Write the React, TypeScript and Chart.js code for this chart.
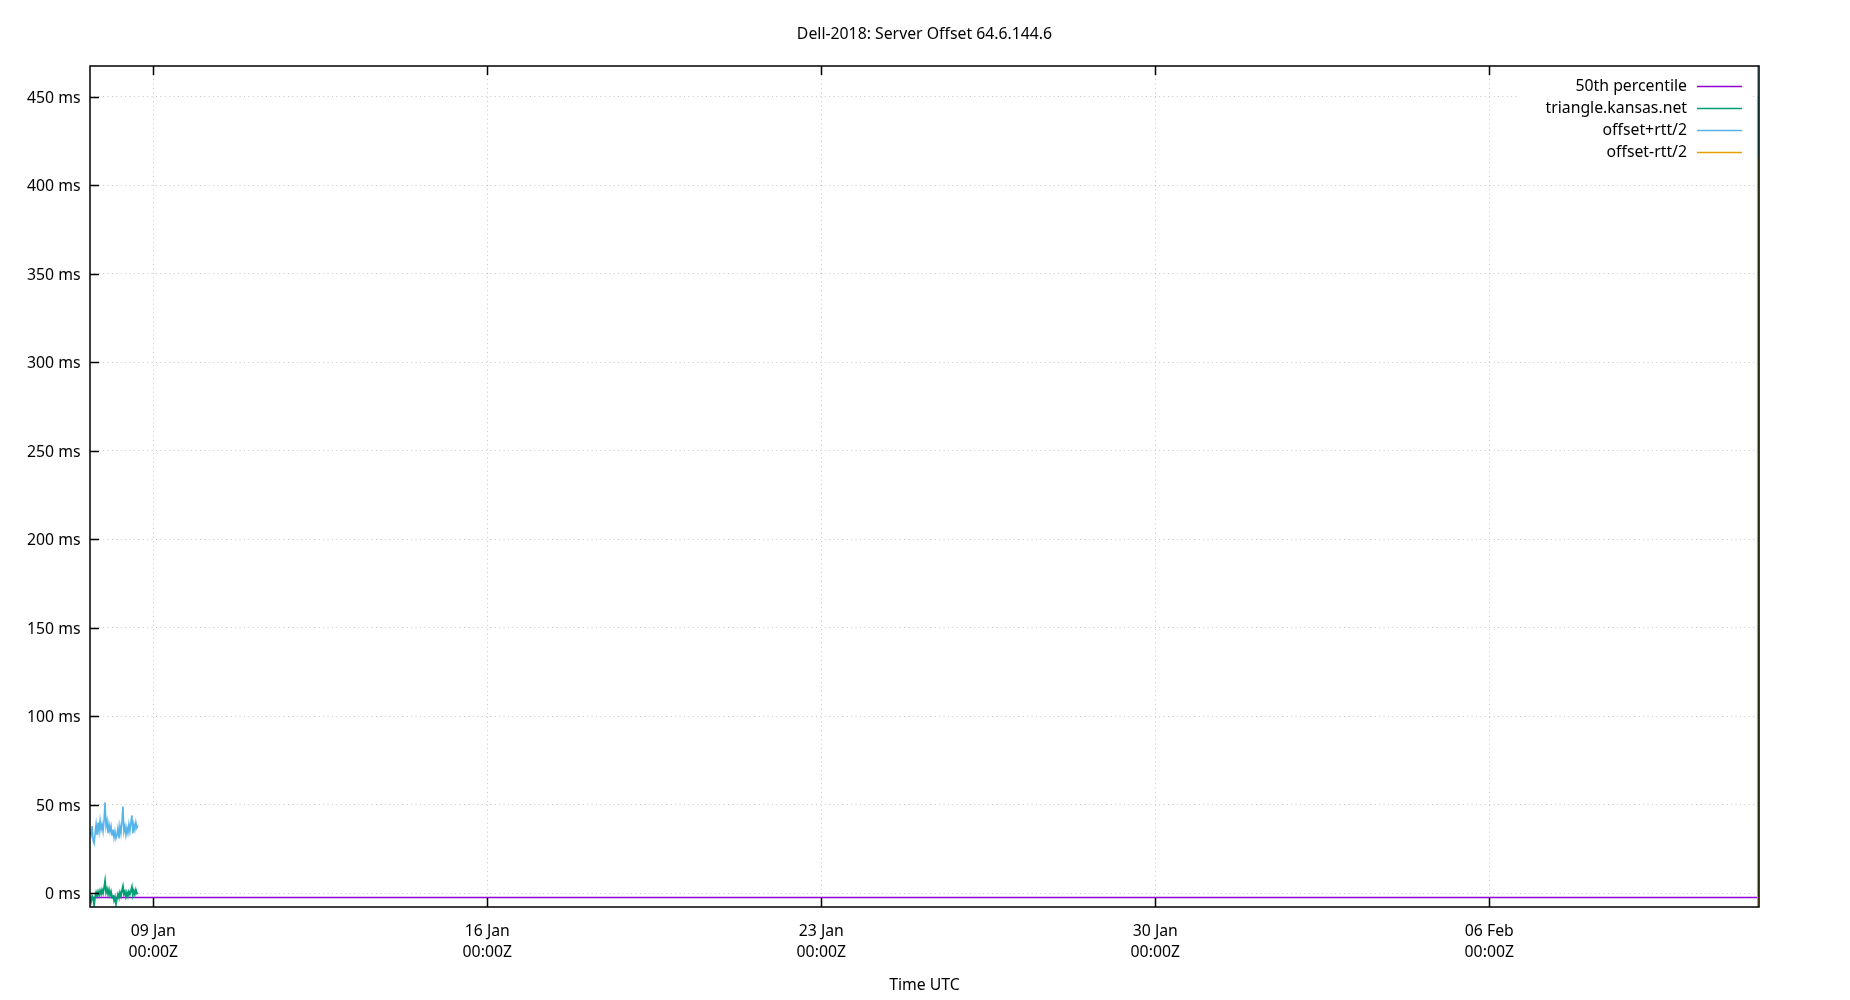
import React, { useEffect, useRef } from 'react';
import { Chart, registerables } from 'chart.js';

Chart.register(...registerables);

const chartTitle = 'Dell-2018: Server Offset 64.6.144.6';
const xAxisTitle = 'Time UTC';

const seriesLabels = ['50th percentile', 'triangle.kansas.net', 'offset+rtt/2', 'offset-rtt/2'];
const seriesColors = ['#9400d3', '#009e73', '#56b4e9', '#e69f00'];

// axis range and ticks
const xAxisMin = '2019-01-07T16:10:00Z';
const xAxisMax = '2019-02-11T15:40:00Z';
const xTickDates = [
  '2019-01-09T00:00:00Z',
  '2019-01-16T00:00:00Z',
  '2019-01-23T00:00:00Z',
  '2019-01-30T00:00:00Z',
  '2019-02-06T00:00:00Z',
];
const yAxisMin = -7.7;
const yAxisMax = 467.3;
const yTickValues = [0, 50, 100, 150, 200, 250, 300, 350, 400, 450];

// first run of samples, every 30 minutes (ms)
const firstRunStart = '2019-01-07T16:14:00Z';
const firstRunStepMinutes = 30;
const firstRunOffset = [
  -2.0, -4.5, -1.5, -3.0, -6.5, -2.0, 0.5, -1.5, 1.0, -1.0,
  1.5, -0.5, 2.0, 0.0, 3.0, 7.0, 0.5, 2.5, -0.5, 2.0,
  -1.0, 1.0, -2.5, -1.0, -4.0, -2.0, -6.0, -3.0, -0.5, -2.5,
  0.5, -1.5, 1.5, 4.0, -0.5, 1.0, -2.0, 0.5, -1.5, 1.0,
  -0.5, 1.5, 3.7, -1.0, 1.5, -0.5, 2.0, 0.0, 0.5,
];
const firstRunHalfRtt = [
  37.0, 37.5, 39.5, 33.0, 34.7, 36.0, 38.5, 34.5, 39.0, 36.0,
  39.5, 36.5, 37.0, 35.0, 38.0, 44.4, 37.5, 38.5, 34.5, 37.0,
  36.0, 37.0, 35.5, 37.0, 35.5, 37.0, 37.0, 36.0, 37.5, 33.5,
  37.5, 35.5, 38.5, 45.0, 35.5, 37.0, 35.0, 36.5, 35.5, 38.0,
  35.5, 38.5, 40.3, 35.0, 37.5, 36.5, 38.0, 37.0, 38.0,
];

// last samples at the right edge
const lastRunTimes = ['2019-02-11T14:58:00Z', '2019-02-11T15:05:00Z'];
const lastRunOffset = [-0.8, 450.0];
const lastRunHalfRtt = [37.5, 34.3];

const medianOffset = -2.3;

const monthNames = ['Jan', 'Feb', 'Mar', 'Apr', 'May', 'Jun', 'Jul', 'Aug', 'Sep', 'Oct', 'Nov', 'Dec'];
const pad2 = (n: number) => String(n).padStart(2, '0');

const FONT_SIZE = 15.8;

type Pt = { x: number; y: number | null };

const buildSeries = (pick: (off: number, half: number) => number): Pt[] => {
  const t0 = Date.parse(firstRunStart);
  const first = firstRunOffset.map((off, i) => ({
    x: t0 + i * firstRunStepMinutes * 60000,
    y: pick(off, firstRunHalfRtt[i]),
  }));
  const last = lastRunTimes.map((t, i) => ({
    x: Date.parse(t),
    y: pick(lastRunOffset[i], lastRunHalfRtt[i]),
  }));
  const gap = { x: (first[first.length - 1].x + last[0].x) / 2, y: null };
  return [...first, gap, ...last];
};

const gnuplotLook = {
  id: 'gnuplotLook',
  afterDatasetsDraw(chart: any) {
    const { ctx, chartArea, scales } = chart;
    const { left, right, top, bottom } = chartArea;
    ctx.save();
    ctx.strokeStyle = '#000';
    ctx.lineWidth = 1.5;
    ctx.strokeRect(left, top, right - left, bottom - top);
    ctx.beginPath();
    // inward ticks: bottom + mirrored top, left only
    scales.x.ticks.forEach((t: any) => {
      const px = Math.round(scales.x.getPixelForValue(t.value)) + 0.5;
      ctx.moveTo(px, bottom);
      ctx.lineTo(px, bottom - 9);
      ctx.moveTo(px, top);
      ctx.lineTo(px, top + 9);
    });
    scales.y.ticks.forEach((t: any) => {
      const py = Math.round(scales.y.getPixelForValue(t.value)) + 0.5;
      ctx.moveTo(left, py);
      ctx.lineTo(left + 9, py);
    });
    ctx.stroke();
    ctx.restore();
  },
  afterDraw(chart: any) {
    const { ctx, chartArea } = chart;
    const { left, right, top } = chartArea;
    ctx.save();
    ctx.font = `${FONT_SIZE}px "Noto Sans"`;
    ctx.fillStyle = '#000';
    ctx.textAlign = 'center';
    ctx.textBaseline = 'middle';
    ctx.fillText(chartTitle, (left + right) / 2, 34);

    // opaque key box
    ctx.fillStyle = '#fff';
    ctx.fillRect(right - 242, top + 8, 233, 90);
    ctx.textAlign = 'right';
    chart.data.datasets.forEach((ds: any, i: number) => {
      const rowY = top + 20.5 + i * 22;
      ctx.fillStyle = '#000';
      ctx.fillText(ds.label, right - 72, rowY);
      ctx.strokeStyle = ds.borderColor;
      ctx.lineWidth = 1.5;
      ctx.beginPath();
      ctx.moveTo(right - 62, rowY);
      ctx.lineTo(right - 17, rowY);
      ctx.stroke();
    });
    ctx.restore();
  },
};

const App = () => {
  const canvasRef = useRef<HTMLCanvasElement>(null);
  const chartRef = useRef<Chart | null>(null);

  useEffect(() => {
    document.body.style.margin = '0';
    if (!canvasRef.current) return;
    if (chartRef.current) chartRef.current.destroy();

    const xMin = Date.parse(xAxisMin);
    const xMax = Date.parse(xAxisMax);

    const datasets = [
      {
        label: seriesLabels[0],
        data: [{ x: xMin, y: medianOffset }, { x: xMax, y: medianOffset }],
        borderColor: seriesColors[0],
        borderWidth: 1.6,
        order: 4,
      },
      {
        label: seriesLabels[1],
        data: buildSeries((off) => off),
        borderColor: seriesColors[1],
        borderWidth: 1.8,
        order: 3,
      },
      {
        label: seriesLabels[2],
        data: buildSeries((off, half) => off + half),
        borderColor: seriesColors[2],
        borderWidth: 1.6,
        order: 2,
      },
      {
        label: seriesLabels[3],
        data: buildSeries((off, half) => off - half),
        borderColor: seriesColors[3],
        borderWidth: 1.6,
        order: 1,
      },
    ];

    Chart.defaults.font.family = '"Noto Sans"';
    Chart.defaults.font.size = FONT_SIZE;
    Chart.defaults.color = '#000';

    const gridColor = 'rgba(160,160,160,0.6)';

    chartRef.current = new Chart(canvasRef.current, {
      type: 'line',
      data: { datasets: datasets as any },
      options: {
        animation: false,
        responsive: false,
        devicePixelRatio: 1,
        events: [],
        layout: { padding: { top: 66, right: 91, left: 0, bottom: 0 } },
        elements: {
          point: { radius: 0 },
          line: { tension: 0, fill: false },
        },
        spanGaps: false,
        plugins: {
          legend: { display: false },
          title: { display: false },
          tooltip: { enabled: false },
        },
        scales: {
          x: {
            type: 'linear',
            min: xMin,
            max: xMax,
            afterFit: (scale: any) => {
              scale.height = 93;
            },
            afterBuildTicks: (scale: any) => {
              scale.ticks = xTickDates.map((d) => ({ value: Date.parse(d) }));
            },
            ticks: {
              autoSkip: false,
              maxRotation: 0,
              padding: 13.5,
              font: { size: FONT_SIZE, lineHeight: 1.37 },
              callback: (value: any) => {
                const d = new Date(Number(value));
                return [
                  `${pad2(d.getUTCDate())} ${monthNames[d.getUTCMonth()]}`,
                  `${pad2(d.getUTCHours())}:${pad2(d.getUTCMinutes())}Z`,
                ];
              },
            },
            grid: { color: gridColor, lineWidth: 1, drawTicks: false },
            border: { display: false, dash: [1, 3.4] },
            title: {
              display: true,
              text: xAxisTitle,
              font: { size: FONT_SIZE },
              padding: { top: 0, bottom: 5.5 },
            },
          },
          y: {
            type: 'linear',
            min: yAxisMin,
            max: yAxisMax,
            afterFit: (scale: any) => {
              scale.width = 90;
            },
            afterBuildTicks: (scale: any) => {
              scale.ticks = yTickValues.map((v) => ({ value: v }));
            },
            ticks: {
              padding: 9.5,
              labelOffset: 1.5,
              font: { size: FONT_SIZE },
              callback: (value: any) => `${value} ms`,
            },
            grid: { color: gridColor, lineWidth: 1, drawTicks: false },
            border: { display: false, dash: [1, 3.4] },
          },
        },
      },
      plugins: [gnuplotLook],
    });

    return () => {
      if (chartRef.current) {
        chartRef.current.destroy();
        chartRef.current = null;
      }
    };
  }, []);

  return (
    <div style={{ width: 1850, height: 1000, background: '#fff' }}>
      <canvas ref={canvasRef} width={1850} height={1000}></canvas>
    </div>
  );
};

export default App;
